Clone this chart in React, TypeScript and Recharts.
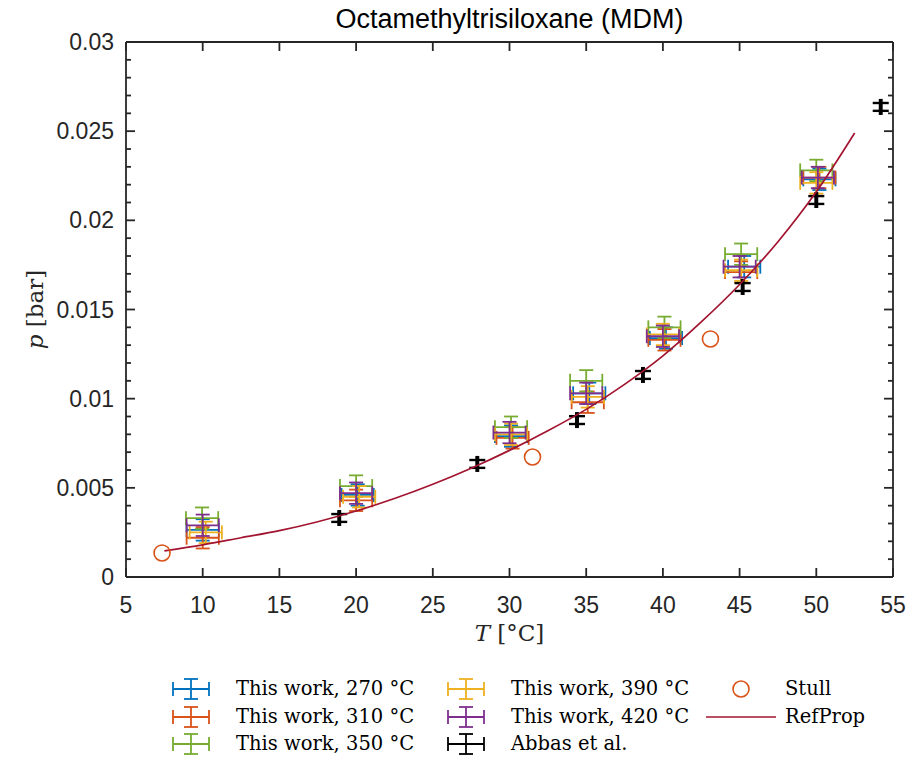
import { ComposedChart, Scatter, Line, XAxis, YAxis, ErrorBar } from 'recharts';

const AXIS = '#262626';
const SANS = '"Liberation Sans", Arial, sans-serif';
const SERIF = '"DejaVu Serif", serif';

// temperatures [°C] and vapour pressures [bar]
const tw270T = [10.0, 20.1, 30.1, 35.2, 40.2, 45.3, 50.2];
const tw270p = [0.00264, 0.0046, 0.0079, 0.0103, 0.0134, 0.0174, 0.0223];
const tw310T = [10.0, 20.0, 30.2, 35.1, 40.1, 45.1, 50.2];
const tw310p = [0.0022, 0.0043, 0.0078, 0.0098, 0.0133, 0.0171, 0.0224];
const tw350T = [9.96, 20.0, 30.1, 35.0, 40.1, 45.1, 50.0];
const tw350p = [0.0033, 0.0051, 0.0084, 0.011, 0.014, 0.0181, 0.0228];
const tw390T = [10.2, 20.2, 30.1, 35.1, 40.0, 45.1, 50.0];
const tw390p = [0.0025, 0.0045, 0.008, 0.0101, 0.0136, 0.0172, 0.0221];
const tw420T = [10.0, 20.0, 30.0, 35.0, 40.0, 45.0, 50.1];
const tw420p = [0.0029, 0.0047, 0.0081, 0.0103, 0.0135, 0.0174, 0.0224];
const twErrT = 1.05;
const twErrP = 0.0006;

const abbasT = [18.9, 27.9, 34.4, 38.7, 45.2, 50.0, 54.2];
const abbasP = [0.00331, 0.00634, 0.0088, 0.01133, 0.01626, 0.02114, 0.02636];
const abbasErrT = 0.05;
const abbasErrP = 0.00022;

const stullT = [7.35, 31.5, 43.1];
const stullP = [0.00135, 0.00673, 0.01335];

const refT = [7.5, 10, 12.5, 15, 17.5, 20, 22.5, 25, 27.5, 30, 32.5, 35, 37.5, 40, 42.5, 45, 47.5, 50, 52.5];
const refP = [0.00146, 0.0018, 0.0022, 0.0026, 0.0031, 0.0037, 0.0044, 0.0052, 0.0061, 0.0071, 0.0082, 0.0094, 0.0108, 0.0124, 0.0143, 0.0164, 0.0188, 0.0216, 0.0249];

const xTicks = [5, 10, 15, 20, 25, 30, 35, 40, 45, 50, 55];
const yMajor = [0, 0.005, 0.01, 0.015, 0.02, 0.025, 0.03];
const yTicks = Array.from({ length: 31 }, (_, i) => i / 1000);

const pts = (T: number[], p: number[], eT: number, eP: number) =>
  T.map((t, i) => ({ T: t, p: p[i], eT, eP }));

const thisWork = [
  { name: 'This work, 270 °C', color: '#0072BD', data: pts(tw270T, tw270p, twErrT, twErrP) },
  { name: 'This work, 310 °C', color: '#D95319', data: pts(tw310T, tw310p, twErrT, twErrP) },
  { name: 'This work, 350 °C', color: '#77AC30', data: pts(tw350T, tw350p, twErrT, twErrP) },
  { name: 'This work, 390 °C', color: '#EDB120', data: pts(tw390T, tw390p, twErrT, twErrP) },
  { name: 'This work, 420 °C', color: '#7E2F8E', data: pts(tw420T, tw420p, twErrT, twErrP) },
];
const abbasData = pts(abbasT, abbasP, abbasErrT, abbasErrP);
const stullData = stullT.map((t, i) => ({ T: t, p: stullP[i] }));
const refData = refT.map((t, i) => ({ T: t, p: refP[i] }));

const isMajor = (v: number) => yMajor.some((m) => Math.abs(m - v) < 1e-9);

const BottomTick = ({ x, y, payload }: any) => (
  <g>
    <line x1={x} y1={y} x2={x} y2={y - 9} stroke={AXIS} strokeWidth={1.8} />
    <text x={x} y={y + 36} textAnchor="middle" fill={AXIS} fontSize={23} fontFamily={SANS}>
      {payload.value}
    </text>
  </g>
);
const TopTick = ({ x, y }: any) => (
  <line x1={x} y1={y} x2={x} y2={y + 9} stroke={AXIS} strokeWidth={1.8} />
);
const LeftTick = ({ x, y, payload }: any) => {
  const major = isMajor(payload.value);
  return (
    <g>
      <line x1={x} y1={y} x2={x + (major ? 9 : 5)} y2={y} stroke={AXIS} strokeWidth={1.8} />
      {major && (
        <text x={x - 12} y={y + 8} textAnchor="end" fill={AXIS} fontSize={23} fontFamily={SANS}>
          {Number(payload.value.toFixed(3)).toString()}
        </text>
      )}
    </g>
  );
};
const RightTick = ({ x, y, payload }: any) => {
  const major = isMajor(payload.value);
  return <line x1={x} y1={y} x2={x - (major ? 9 : 5)} y2={y} stroke={AXIS} strokeWidth={1.8} />;
};

const noShape = () => <g />;
const ring = ({ cx, cy }: any) => (
  <circle cx={cx} cy={cy} r={8} fill="none" stroke="#D95319" strokeWidth={1.6} />
);

const XLabel = ({ viewBox }: any) => (
  <text x={viewBox.x + viewBox.width / 2} y={viewBox.y + 64} textAnchor="middle" fontSize={23} fontFamily={SERIF} fill={AXIS}>
    <tspan fontStyle="italic">T</tspan> [°C]
  </text>
);
const YLabel = ({ viewBox }: any) => {
  const cx = 43;
  const cy = viewBox.y + viewBox.height / 2;
  return (
    <text x={cx} y={cy} transform={`rotate(-90 ${cx} ${cy})`} textAnchor="middle" fontSize={23} fontFamily={SERIF} fill={AXIS}>
      <tspan fontStyle="italic">p</tspan> [bar]
    </text>
  );
};

const ErrIcon = ({ color }: { color: string }) => (
  <svg width={40} height={24} style={{ position: 'absolute', left: -20, top: 0 }}>
    <g stroke={color} strokeWidth={1.8}>
      <line x1={2} y1={12} x2={38} y2={12} />
      <line x1={2} y1={5} x2={2} y2={19} />
      <line x1={38} y1={5} x2={38} y2={19} />
      <line x1={20} y1={2} x2={20} y2={22} />
      <line x1={13} y1={2} x2={27} y2={2} />
      <line x1={13} y1={22} x2={27} y2={22} />
    </g>
  </svg>
);

const legendRows = [689, 717, 744];
const legendItems = [
  { label: thisWork[0].name, icon: <ErrIcon color={thisWork[0].color} />, ix: 191, tx: 236, row: 0 },
  { label: thisWork[1].name, icon: <ErrIcon color={thisWork[1].color} />, ix: 191, tx: 236, row: 1 },
  { label: thisWork[2].name, icon: <ErrIcon color={thisWork[2].color} />, ix: 191, tx: 236, row: 2 },
  { label: thisWork[3].name, icon: <ErrIcon color={thisWork[3].color} />, ix: 466, tx: 511, row: 0 },
  { label: thisWork[4].name, icon: <ErrIcon color={thisWork[4].color} />, ix: 466, tx: 511, row: 1 },
  { label: 'Abbas et al.', icon: <ErrIcon color="#000000" />, ix: 466, tx: 511, row: 2 },
  {
    label: 'Stull',
    icon: (
      <svg width={24} height={24} style={{ position: 'absolute', left: -12, top: 0 }}>
        <circle cx={12} cy={12} r={8} fill="none" stroke="#D95319" strokeWidth={1.6} />
      </svg>
    ),
    ix: 741, tx: 785, row: 0,
  },
  {
    label: 'RefProp',
    icon: (
      <svg width={70} height={24} style={{ position: 'absolute', left: -35, top: 0 }}>
        <line x1={0} y1={12} x2={70} y2={12} stroke="#A2142F" strokeWidth={1.6} />
      </svg>
    ),
    ix: 741, tx: 785, row: 1,
  },
];

export default function App() {
  return (
    <div style={{ position: 'absolute', left: 0, top: 0, width: 911, height: 760, background: '#fff' }}>
      <div
        style={{
          position: 'absolute', left: 0, top: 4, width: 911, textAlign: 'center',
          fontFamily: SANS, fontSize: 27, color: '#000',
        }}
      >
        <span style={{ position: 'relative', left: 54 }}>Octamethyltrisiloxane (MDM)</span>
      </div>
      <ComposedChart width={911} height={760} margin={{ top: 41, right: 17, bottom: 143, left: 46 }}>
        <XAxis
          xAxisId="b" dataKey="T" type="number" domain={[5, 55]} ticks={xTicks} interval={0}
          height={40} tickSize={0} tickMargin={0} tickLine={false} tick={<BottomTick />}
          axisLine={{ stroke: AXIS, strokeWidth: 1.8 }} label={<XLabel />}
        />
        <XAxis
          xAxisId="t" orientation="top" dataKey="T" type="number" domain={[5, 55]} ticks={xTicks} interval={0}
          height={1} tickSize={0} tickMargin={0} tickLine={false} tick={<TopTick />}
          axisLine={{ stroke: AXIS, strokeWidth: 1.8 }}
        />
        <YAxis
          yAxisId="l" dataKey="p" type="number" domain={[0, 0.03]} ticks={yTicks} interval={0}
          width={80} tickSize={0} tickMargin={0} tickLine={false} tick={<LeftTick />}
          axisLine={{ stroke: AXIS, strokeWidth: 1.8 }} label={<YLabel />}
        />
        <YAxis
          yAxisId="r" orientation="right" dataKey="p" type="number" domain={[0, 0.03]} ticks={yTicks} interval={0}
          width={1} tickSize={0} tickMargin={0} tickLine={false} tick={<RightTick />}
          axisLine={{ stroke: AXIS, strokeWidth: 1.8 }}
        />
        {/* invisible series so the top / right box axes get drawn */}
        <Scatter data={refData} xAxisId="t" yAxisId="r" dataKey="p" shape={noShape} legendType="none" isAnimationActive={false} />
        {thisWork.map((s) => (
          <Scatter key={s.name} name={s.name} data={s.data} xAxisId="b" yAxisId="l" dataKey="p" shape={noShape} isAnimationActive={false}>
            <ErrorBar dataKey="eT" direction="x" width={7} stroke={s.color} strokeWidth={1.8} isAnimationActive={false} />
            <ErrorBar dataKey="eP" direction="y" width={7} stroke={s.color} strokeWidth={1.8} isAnimationActive={false} />
          </Scatter>
        ))}
        <Scatter name="Abbas et al." data={abbasData} xAxisId="b" yAxisId="l" dataKey="p" shape={noShape} isAnimationActive={false}>
          <ErrorBar dataKey="eT" direction="x" width={8} stroke="#000" strokeWidth={2.4} isAnimationActive={false} />
          <ErrorBar dataKey="eP" direction="y" width={8} stroke="#000" strokeWidth={2.4} isAnimationActive={false} />
        </Scatter>
        <Scatter name="Stull" data={stullData} xAxisId="b" yAxisId="l" dataKey="p" shape={ring} isAnimationActive={false} />
        <Line
          name="RefProp" data={refData} xAxisId="b" yAxisId="l" dataKey="p" type="monotone"
          stroke="#A2142F" strokeWidth={1.7} dot={false} activeDot={false} isAnimationActive={false}
        />
      </ComposedChart>
      {legendItems.map((it) => (
        <div key={it.label} style={{ position: 'absolute', top: legendRows[it.row] - 12, left: 0, height: 24 }}>
          <div style={{ position: 'absolute', left: it.ix, top: 0 }}>{it.icon}</div>
          <div
            style={{
              position: 'absolute', left: it.tx, top: 0, height: 24, lineHeight: '24px',
              whiteSpace: 'nowrap', fontFamily: SERIF, fontSize: 19.5, color: '#000',
            }}
          >
            {it.label}
          </div>
        </div>
      ))}
    </div>
  );
}
